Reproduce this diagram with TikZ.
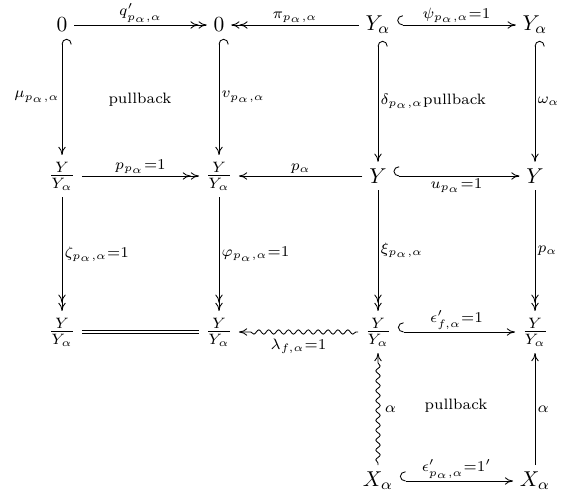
\documentclass[tikz,border=0pt]{standalone}
\usetikzlibrary{arrows.meta,decorations.pathmorphing}
\begin{document}
\begin{tikzpicture}[x=0.465pt,y=-0.465pt,
  obj/.style={inner sep=3pt},
  lbl/.style={inner sep=1pt},
  txt/.style={font=\scriptsize, inner sep=0pt},
  tip/.tip={Computer Modern Rightarrow[length=3.8pt,width=3.4pt]},
  one/.style={-{tip}},
  two/.style={-{tip[]tip[]}},
  hk/.style={{Hooks[right,length=2.6pt,width=9pt]}-{tip}},
  squig/.style={decorate, decoration={snake, amplitude=1pt, segment length=4.6pt, pre length=1pt, post length=3.5pt}},
  eqline/.style={double, double distance=1.3pt}
]
\useasboundingbox (0,0) rectangle (561,497);
% objects
\node[obj] (a1) at (62,25) {$0$};
\node[obj] (a2) at (219,25) {$0$};
\node[obj] (a3) at (378,25) {$Y_\alpha$};
\node[obj] (a4) at (535,25) {$Y_\alpha$};
\node[obj] (b1) at (62,176) {$\frac{Y}{Y_\alpha}$};
\node[obj] (b2) at (219,176) {$\frac{Y}{Y_\alpha}$};
\node[obj] (b3) at (378,176) {$Y$};
\node[obj] (b4) at (535,176) {$Y$};
\node[obj] (c1) at (62,332) {$\frac{Y}{Y_\alpha}$};
\node[obj] (c2) at (219,332) {$\frac{Y}{Y_\alpha}$};
\node[obj] (c3) at (378,332) {$\frac{Y}{Y_\alpha}$};
\node[obj] (c4) at (535,332) {$\frac{Y}{Y_\alpha}$};
\node[obj] (d3) at (378,481) {$X_\alpha$};
\node[obj] (d4) at (535,481) {$X_\alpha$};
\node[txt] (pb1) at (140,100) {pullback};
\node[txt] (pb2) at (456,406) {pullback};
% row 1
\draw[two] (a1) -- node[above,lbl] {$\scriptstyle q'_{p_\alpha,\alpha}$} (a2);
\draw[two] (a3) -- node[above,lbl] {$\scriptstyle \pi_{p_\alpha,\alpha}$} (a2);
\draw[hk] (a3) -- node[above,lbl] {$\scriptstyle \psi_{p_\alpha,\alpha}=1$} (a4);
% rows 1-2
\draw[hk] (a1) -- node[left,lbl] {$\scriptstyle \mu_{p_\alpha,\alpha}$} (b1);
\draw[hk] (a2) -- node[right,lbl] {$\scriptstyle v_{p_\alpha,\alpha}$} (b2);
\draw[hk] (a3) -- node[right,lbl] {$\scriptstyle \delta_{p_\alpha,\alpha}\mathrm{pullback}$} (b3);
\draw[hk] (a4) -- node[right,lbl] {$\scriptstyle \omega_\alpha$} (b4);
% row 2
\draw[two] (b1) -- node[above,lbl] {$\scriptstyle p_{p_\alpha}=1$} (b2);
\draw[one] (b3) -- node[above,lbl] {$\scriptstyle p_\alpha$} (b2);
\draw[hk] (b3) -- node[below,lbl] {$\scriptstyle u_{p_\alpha}=1$} (b4);
% rows 2-3
\draw[two] (b1) -- node[right,lbl] {$\scriptstyle \zeta_{p_\alpha,\alpha}=1$} (c1);
\draw[two] (b2) -- node[right,lbl] {$\scriptstyle \varphi_{p_\alpha,\alpha}=1$} (c2);
\draw[two] (b3) -- node[right,lbl] {$\scriptstyle \xi_{p_\alpha,\alpha}$} (c3);
\draw[two] (b4) -- node[right,lbl] {$\scriptstyle p_\alpha$} (c4);
% row 3
\draw[eqline] (c1) -- (c2);
\draw[one,squig] (c3) -- node[below=2pt,lbl] {$\scriptstyle \lambda_{f,\alpha}=1$} (c2);
\draw[hk] (c3) -- node[above,lbl] {$\scriptstyle \epsilon'_{f,\alpha}=1$} (c4);
% rows 3-4
\draw[one,squig] (d3) -- node[right=2pt,lbl] {$\scriptstyle \alpha$} (c3);
\draw[one] (d4) -- node[right,lbl] {$\scriptstyle \alpha$} (c4);
% row 4
\draw[hk] (d3) -- node[above,lbl] {$\scriptstyle \epsilon'_{p_\alpha,\alpha}=1'$} (d4);
\end{tikzpicture}
\end{document}
